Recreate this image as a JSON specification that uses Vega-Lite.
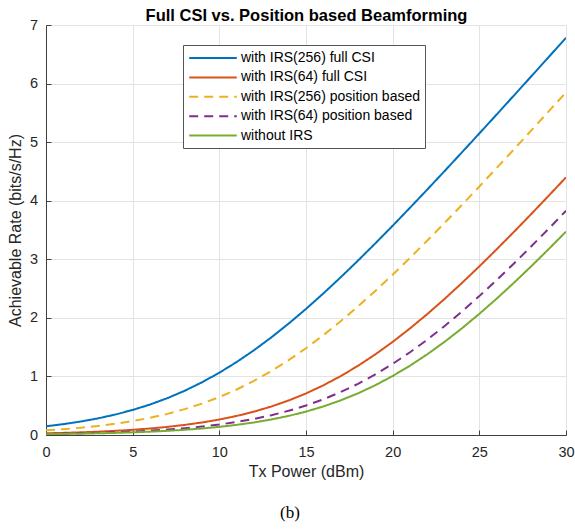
{
  "$schema": "https://vega.github.io/schema/vega-lite/v6.json",
  "width": 520,
  "height": 410,
  "autosize": {"type": "none"},
  "padding": {"left": 46, "top": 25, "right": 9, "bottom": 94},
  "background": "white",
  "title": {"text": "(b)", "orient": "bottom", "anchor": "middle", "font": "Liberation Serif", "fontSize": 17, "fontWeight": "normal", "color": "#000000", "offset": 25, "dx": -16},
  "config": {
    "font": "Liberation Sans",
    "view": {"stroke": null},
    "axis": {
      "domainColor": "#404040",
      "tickColor": "#404040",
      "gridColor": "#e3e3e3",
      "labelColor": "#262626",
      "titleColor": "#262626",
      "labelFont": "Liberation Sans",
      "titleFont": "Liberation Sans",
      "labelFontSize": 14.5,
      "titleFontSize": 16,
      "titleFontWeight": "normal"
    }
  },
  "data": {
    "values": [
      {"p": 0, "with IRS(256) full CSI": 0.1493, "with IRS(64) full CSI": 0.0287, "with IRS(256) position based": 0.0796, "with IRS(64) position based": 0.0189, "without IRS": 0.0145},
      {"p": 1, "with IRS(256) full CSI": 0.1855, "with IRS(64) full CSI": 0.0360, "with IRS(256) position based": 0.0995, "with IRS(64) position based": 0.0238, "without IRS": 0.0182},
      {"p": 2, "with IRS(256) full CSI": 0.2299, "with IRS(64) full CSI": 0.0452, "with IRS(256) position based": 0.1241, "with IRS(64) position based": 0.0299, "without IRS": 0.0229},
      {"p": 3, "with IRS(256) full CSI": 0.2839, "with IRS(64) full CSI": 0.0567, "with IRS(256) position based": 0.1546, "with IRS(64) position based": 0.0375, "without IRS": 0.0288},
      {"p": 4, "with IRS(256) full CSI": 0.3491, "with IRS(64) full CSI": 0.0711, "with IRS(256) position based": 0.1921, "with IRS(64) position based": 0.0471, "without IRS": 0.0361},
      {"p": 5, "with IRS(256) full CSI": 0.4273, "with IRS(64) full CSI": 0.0889, "with IRS(256) position based": 0.2379, "with IRS(64) position based": 0.0590, "without IRS": 0.0454},
      {"p": 6, "with IRS(256) full CSI": 0.5200, "with IRS(64) full CSI": 0.1111, "with IRS(256) position based": 0.2936, "with IRS(64) position based": 0.0739, "without IRS": 0.0569},
      {"p": 7, "with IRS(256) full CSI": 0.6288, "with IRS(64) full CSI": 0.1385, "with IRS(256) position based": 0.3608, "with IRS(64) position based": 0.0924, "without IRS": 0.0712},
      {"p": 8, "with IRS(256) full CSI": 0.7551, "with IRS(64) full CSI": 0.1723, "with IRS(256) position based": 0.4412, "with IRS(64) position based": 0.1154, "without IRS": 0.0891},
      {"p": 9, "with IRS(256) full CSI": 0.8998, "with IRS(64) full CSI": 0.2137, "with IRS(256) position based": 0.5364, "with IRS(64) position based": 0.1439, "without IRS": 0.1113},
      {"p": 10, "with IRS(256) full CSI": 1.0635, "with IRS(64) full CSI": 0.2642, "with IRS(256) position based": 0.6480, "with IRS(64) position based": 0.1789, "without IRS": 0.1388},
      {"p": 11, "with IRS(256) full CSI": 1.2462, "with IRS(64) full CSI": 0.3254, "with IRS(256) position based": 0.7772, "with IRS(64) position based": 0.2218, "without IRS": 0.1727},
      {"p": 12, "with IRS(256) full CSI": 1.4476, "with IRS(64) full CSI": 0.3990, "with IRS(256) position based": 0.9250, "with IRS(64) position based": 0.2741, "without IRS": 0.2142},
      {"p": 13, "with IRS(256) full CSI": 1.6667, "with IRS(64) full CSI": 0.4865, "with IRS(256) position based": 1.0918, "with IRS(64) position based": 0.3373, "without IRS": 0.2649},
      {"p": 14, "with IRS(256) full CSI": 1.9023, "with IRS(64) full CSI": 0.5897, "with IRS(256) position based": 1.2775, "with IRS(64) position based": 0.4131, "without IRS": 0.3262},
      {"p": 15, "with IRS(256) full CSI": 2.1528, "with IRS(64) full CSI": 0.7098, "with IRS(256) position based": 1.4818, "with IRS(64) position based": 0.5033, "without IRS": 0.3999},
      {"p": 16, "with IRS(256) full CSI": 2.4167, "with IRS(64) full CSI": 0.8482, "with IRS(256) position based": 1.7037, "with IRS(64) position based": 0.6093, "without IRS": 0.4876},
      {"p": 17, "with IRS(256) full CSI": 2.6922, "with IRS(64) full CSI": 1.0053, "with IRS(256) position based": 1.9418, "with IRS(64) position based": 0.7326, "without IRS": 0.5909},
      {"p": 18, "with IRS(256) full CSI": 2.9778, "with IRS(64) full CSI": 1.1815, "with IRS(256) position based": 2.1946, "with IRS(64) position based": 0.8741, "without IRS": 0.7113},
      {"p": 19, "with IRS(256) full CSI": 3.2718, "with IRS(64) full CSI": 1.3766, "with IRS(256) position based": 2.4604, "with IRS(64) position based": 1.0346, "without IRS": 0.8498},
      {"p": 20, "with IRS(256) full CSI": 3.5729, "with IRS(64) full CSI": 1.5898, "with IRS(256) position based": 2.7377, "with IRS(64) position based": 1.2141, "without IRS": 1.0072},
      {"p": 21, "with IRS(256) full CSI": 3.8800, "with IRS(64) full CSI": 1.8198, "with IRS(256) position based": 3.0247, "with IRS(64) position based": 1.4124, "without IRS": 1.1836},
      {"p": 22, "with IRS(256) full CSI": 4.1918, "with IRS(64) full CSI": 2.0654, "with IRS(256) position based": 3.3200, "with IRS(64) position based": 1.6286, "without IRS": 1.3789},
      {"p": 23, "with IRS(256) full CSI": 4.5078, "with IRS(64) full CSI": 2.3249, "with IRS(256) position based": 3.6221, "with IRS(64) position based": 1.8614, "without IRS": 1.5923},
      {"p": 24, "with IRS(256) full CSI": 4.8269, "with IRS(64) full CSI": 2.5967, "with IRS(256) position based": 3.9300, "with IRS(64) position based": 2.1096, "without IRS": 1.8225},
      {"p": 25, "with IRS(256) full CSI": 5.1485, "with IRS(64) full CSI": 2.8790, "with IRS(256) position based": 4.2426, "with IRS(64) position based": 2.3713, "without IRS": 2.0683},
      {"p": 26, "with IRS(256) full CSI": 5.4723, "with IRS(64) full CSI": 3.1702, "with IRS(256) position based": 4.5591, "with IRS(64) position based": 2.6450, "without IRS": 2.3280},
      {"p": 27, "with IRS(256) full CSI": 5.7978, "with IRS(64) full CSI": 3.4691, "with IRS(256) position based": 4.8786, "with IRS(64) position based": 2.9290, "without IRS": 2.5998},
      {"p": 28, "with IRS(256) full CSI": 6.1247, "with IRS(64) full CSI": 3.7742, "with IRS(256) position based": 5.2006, "with IRS(64) position based": 3.2216, "without IRS": 2.8822},
      {"p": 29, "with IRS(256) full CSI": 6.4526, "with IRS(64) full CSI": 4.0846, "with IRS(256) position based": 5.5247, "with IRS(64) position based": 3.5217, "without IRS": 3.1736},
      {"p": 30, "with IRS(256) full CSI": 6.7814, "with IRS(64) full CSI": 4.3991, "with IRS(256) position based": 5.8504, "with IRS(64) position based": 3.8278, "without IRS": 3.4725}
    ]
  },
  "transform": [
    {"fold": ["with IRS(256) full CSI", "with IRS(64) full CSI", "with IRS(256) position based", "with IRS(64) position based", "without IRS"], "as": ["series", "rate"]}
  ],
  "layer": [
    {
      "mark": {"type": "line", "strokeWidth": 2, "clip": true},
      "encoding": {
        "x": {
          "field": "p", "type": "quantitative",
          "scale": {"domain": [0, 30], "nice": false, "zero": false},
          "axis": {"orient": "bottom", "title": "Tx Power (dBm)", "values": [0, 5, 10, 15, 20, 25, 30], "tickSize": -5, "labelPadding": 15, "titlePadding": 5, "grid": true, "labelFlush": false}
        },
        "y": {
          "field": "rate", "type": "quantitative",
          "scale": {"domain": [0, 7], "nice": false},
          "axis": {"title": "Achievable Rate (bits/s/Hz)", "values": [0, 1, 2, 3, 4, 5, 6, 7], "tickSize": -5, "labelPadding": 13.5, "titlePadding": 6, "grid": true, "labelFlush": false}
        },
        "color": {
          "field": "series", "type": "nominal",
          "scale": {
            "domain": ["with IRS(256) full CSI", "with IRS(64) full CSI", "with IRS(256) position based", "with IRS(64) position based", "without IRS"],
            "range": ["#0072BD", "#D95319", "#EDB120", "#7E2F8E", "#77AC30"]
          },
          "legend": {
            "orient": "none", "legendX": 137, "legendY": 20, "title": null,
            "symbolType": "M-3.4,0H3.4", "symbolSize": 196, "symbolStrokeWidth": 2, "symbolOffset": 17,
            "labelFontSize": 14, "labelColor": "#000000", "labelFont": "Liberation Sans",
            "fillColor": "white", "strokeColor": "#555555", "padding": 5,
            "rowPadding": 4.4, "labelOffset": 20, "labelLimit": 400
          }
        },
        "strokeDash": {
          "field": "series", "type": "nominal",
          "scale": {
            "domain": ["with IRS(256) full CSI", "with IRS(64) full CSI", "with IRS(256) position based", "with IRS(64) position based", "without IRS"],
            "range": [[1, 0], [1, 0], [9, 6], [9, 6], [1, 0]]
          },
          "legend": {
            "orient": "none", "legendX": 137, "legendY": 20, "title": null,
            "symbolType": "M-3.4,0H3.4", "symbolSize": 196, "symbolStrokeWidth": 2, "symbolOffset": 17,
            "labelFontSize": 14, "labelColor": "#000000", "labelFont": "Liberation Sans",
            "fillColor": "white", "strokeColor": "#555555", "padding": 5,
            "rowPadding": 4.4, "labelOffset": 20, "labelLimit": 400
          }
        }
      }
    },
    {
      "mark": {"type": "line", "opacity": 0},
      "encoding": {
        "x": {
          "field": "p", "type": "quantitative",
          "axis": {"orient": "top", "title": "Full CSI vs. Position based Beamforming", "labels": false, "ticks": false, "domain": false, "grid": false, "titleFontWeight": "bold", "titleFontSize": 16.5, "titleColor": "#000000", "titlePadding": 5, "titleBaseline": "alphabetic"}
        }
      }
    }
  ],
  "resolve": {"axis": {"x": "independent"}}
}
